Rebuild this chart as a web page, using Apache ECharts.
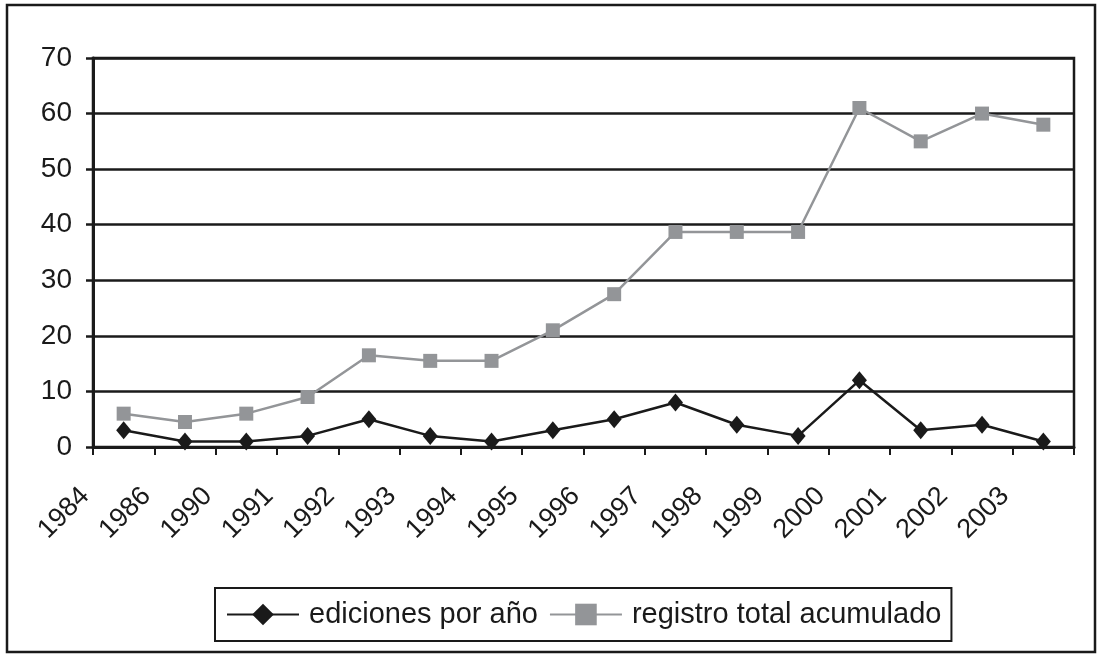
<!DOCTYPE html>
<html>
<head>
<meta charset="utf-8">
<script src="https://cdn.jsdelivr.net/npm/echarts@6/dist/echarts.min.js"></script>
<style>
  html, body { margin: 0; padding: 0; background: #fff; }
  #chart { width: 1098px; height: 655px; }
</style>
</head>
<body>
<div id="chart"></div>
<script>
// data
const years = ['1984', '1986', '1990', '1991', '1992', '1993', '1994', '1995',
  '1996', '1997', '1998', '1999', '2000', '2001', '2002', '2003'];
const edicionesPorAno = [3, 1, 1, 2, 5, 2, 1, 3, 5, 8, 4, 2, 12, 3, 4, 1];
const registroAcumulado = [6, 4.5, 6, 9, 16.5, 15.5, 15.5, 21, 27.5, 38.7, 38.7, 38.7, 61, 55, 60, 58];
const seriesNames = ['ediciones por año', 'registro total acumulado'];
// labels sit on the tick marks, one more slot than categories
const yearTickLabels = years.concat(['']);

const ink = '#1a1a1a';
const grey = '#939598';
const font = 'Liberation Sans, Arial, sans-serif';

const chart = echarts.init(document.getElementById('chart'));

const option = {
  animation: false,
  backgroundColor: '#fff',
  graphic: [
    {
      type: 'rect',
      shape: { x: 7, y: 5, width: 1088, height: 647 },
      style: { fill: 'none', stroke: ink, lineWidth: 2.5 },
      silent: true
    }
  ],
  grid: {
    left: 93,
    right: 24,
    top: 58,
    bottom: 208,
    show: true,
    borderColor: ink,
    borderWidth: 2.5
  },
  legend: {
    left: 215,
    top: 588,
    orient: 'horizontal',
    itemWidth: 72,
    itemHeight: 27,
    itemGap: 11,
    padding: [9, 10, 9, 11],
    borderColor: ink,
    borderWidth: 2,
    textStyle: {
      color: ink,
      fontFamily: font,
      fontSize: 29,
      lineHeight: 35,
      padding: [0, 0, 0, 5]
    },
    data: seriesNames
  },
  xAxis: [
    {
      type: 'category',
      data: years,
      boundaryGap: true,
      axisLine: { lineStyle: { color: ink, width: 3 } },
      axisTick: { show: true, length: 8, lineStyle: { color: ink, width: 2 } },
      axisLabel: { show: false },
      splitLine: { show: false }
    },
    {
      type: 'category',
      data: yearTickLabels,
      boundaryGap: false,
      position: 'bottom',
      axisLine: { show: false },
      axisTick: { show: false },
      splitLine: { show: false },
      axisLabel: {
        interval: 0,
        rotate: 45,
        margin: 37,
        padding: [0, 11, 0, 0],
        color: ink,
        fontFamily: font,
        fontSize: 27
      }
    }
  ],
  yAxis: {
    type: 'value',
    min: 0,
    max: 70,
    interval: 10,
    axisLine: { show: true, lineStyle: { color: ink, width: 3 } },
    axisTick: { show: true, length: 7, lineStyle: { color: ink, width: 2.5 } },
    axisLabel: {
      color: ink,
      fontFamily: font,
      fontSize: 28,
      margin: 21
    },
    splitLine: { show: true, lineStyle: { color: ink, width: 2.5 } }
  },
  series: [
    {
      name: seriesNames[0],
      type: 'line',
      xAxisIndex: 0,
      data: edicionesPorAno,
      symbol: 'diamond',
      symbolSize: [15, 18],
      lineStyle: { color: ink, width: 2.5 },
      itemStyle: { color: ink },
      z: 3
    },
    {
      name: seriesNames[1],
      type: 'line',
      xAxisIndex: 0,
      data: registroAcumulado,
      symbol: 'rect',
      symbolSize: 14,
      lineStyle: { color: grey, width: 2.5 },
      itemStyle: { color: grey },
      z: 2
    }
  ]
};

chart.setOption(option);
</script>
</body>
</html>
